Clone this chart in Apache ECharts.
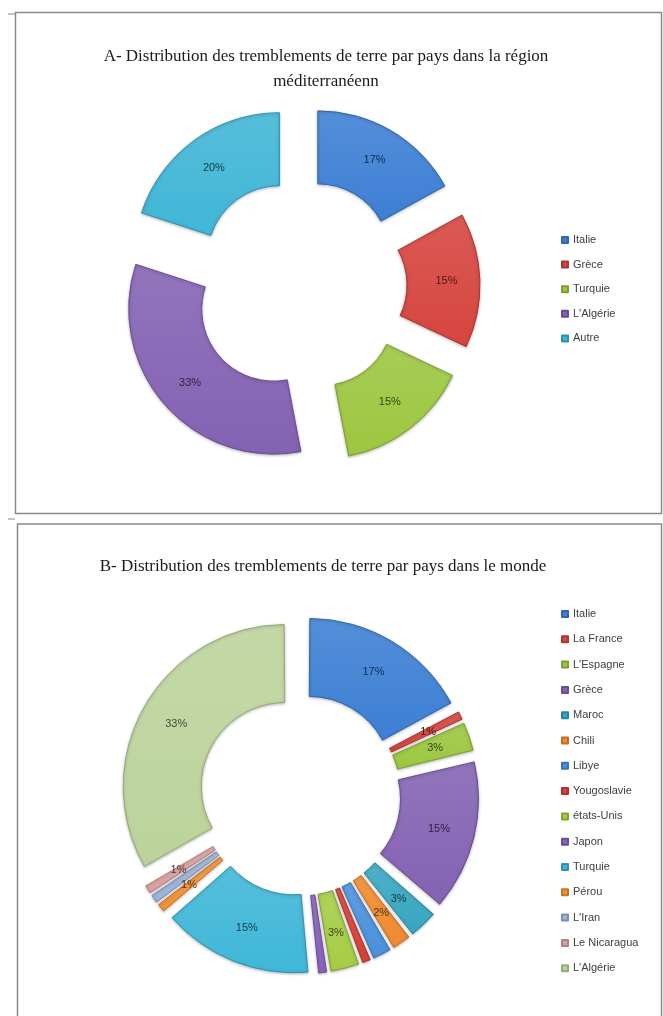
<!DOCTYPE html>
<html>
<head>
<meta charset="utf-8">
<title>Distribution des tremblements de terre</title>
<script src="https://cdn.jsdelivr.net/npm/echarts@6/dist/echarts.min.js"></script>
<style>
  html, body { margin: 0; padding: 0; background: #fff; }
  #chart { width: 663px; height: 1016px; }
</style>
</head>
<body>
<div id="chart"></div>
<script>
// A - région méditerranéenne
var paysA = ['Italie', 'Grèce', 'Turquie', "L'Algérie", 'Autre'];
var valeursA = [17, 15, 15, 33, 20];

// B - monde
var paysB = ['Italie', 'La France', "L'Espagne", 'Grèce', 'Maroc', 'Chili', 'Libye', 'Yougoslavie',
  'états-Unis', 'Japon', 'Turquie', 'Pérou', "L'Iran", 'Le Nicaragua', "L'Algérie"];
var valeursB = [17, 1, 3, 15, 3, 2, 2, 1, 3, 1, 15, 1, 1, 1, 33];

// couleurs (style excel)
var couleursA = ['#3d7fd4', '#d7443e', '#9cc73f', '#8462b3', '#40b6d6'];
var couleursB = ['#3d7fd4', '#d7443e', '#9cc73f', '#8462b3', '#36a6c0', '#f08a2e', '#4a90dc', '#d9403a',
  '#a5cc44', '#8a62bc', '#3fb7d8', '#f39235', '#9db3d9', '#dba1a0', '#bcd39b'];

function darker(hex, k) {
  var c = echarts.color.parse(hex);
  return 'rgb(' + Math.round(c[0] * k) + ',' + Math.round(c[1] * k) + ',' + Math.round(c[2] * k) + ')';
}

// les noms de B ont un espace en plus pour ne pas se mélanger avec la légende de A
function nomB(n) { return n + ' '; }

function buildData(noms, valeurs, couleurs) {
  var list = [];
  for (var i = 0; i < noms.length; i++) {
    list.push({
      name: noms[i],
      value: valeurs[i],
      selected: true,
      itemStyle: {
        color: new echarts.graphic.LinearGradient(0, 0, 0, 1, [
          { offset: 0, color: echarts.color.lift(couleurs[i], 0.12) },
          { offset: 1, color: couleurs[i] }
        ]),
        borderColor: darker(couleurs[i], 0.8),
        borderWidth: 1,
        shadowColor: 'rgba(0,0,0,0.25)',
        shadowBlur: 3,
        shadowOffsetY: 1
      },
      label: { color: darker(couleurs[i], 0.35) }
    });
  }
  return list;
}

var myChart = echarts.init(document.getElementById('chart'));

var legendText = { fontFamily: 'Liberation Sans', fontSize: 11, color: '#404040', lineHeight: 14 };
var titleText = { fontFamily: 'Liberation Serif', fontSize: 17, fontWeight: 'normal', color: '#1a1a1a', lineHeight: 25 };

var option = {
  backgroundColor: '#fff',
  animation: false,
  title: [
    {
      text: 'A- Distribution des tremblements de terre par pays dans la région\nméditerranéenn',
      left: 321, top: 39, textAlign: 'center',
      textStyle: titleText
    },
    {
      text: 'B- Distribution des tremblements de terre par pays dans le monde',
      left: 318, top: 549, textAlign: 'center',
      textStyle: titleText
    }
  ],
  legend: [
    {
      data: paysA.map(function (n, i) { return { name: n, itemStyle: { color: couleursA[i] } }; }),
      orient: 'vertical', left: 556, top: 228,
      icon: 'rect', itemWidth: 6, itemHeight: 6, itemGap: 10.6,
      textStyle: legendText
    },
    {
      data: paysB.map(function (n, i) { return { name: nomB(n), itemStyle: { color: couleursB[i] } }; }),
      orient: 'vertical', left: 556, top: 602,
      icon: 'rect', itemWidth: 6, itemHeight: 6, itemGap: 11.3,
      textStyle: legendText
    }
  ],
  graphic: [
    // cadres
    { type: 'rect', shape: { x: 15.5, y: 12.5, width: 646, height: 501 }, style: { fill: null, stroke: '#8a8a8a', lineWidth: 1.5 } },
    { type: 'line', shape: { x1: 8, y1: 14, x2: 15, y2: 14 }, style: { stroke: '#8a8a8a', lineWidth: 1 } },
    { type: 'line', shape: { x1: 8, y1: 519, x2: 15, y2: 519 }, style: { stroke: '#8a8a8a', lineWidth: 1 } },
    { type: 'rect', shape: { x: 17.5, y: 524, width: 644, height: 500 }, style: { fill: null, stroke: '#8a8a8a', lineWidth: 1.5 } }
  ],
  series: [
    {
      name: 'A',
      type: 'pie',
      center: [300, 286],
      radius: [72, 145],
      startAngle: 90,
      selectedMode: 'multiple',
      selectedOffset: 35,
      emphasis: { disabled: true },
      label: { show: true, position: 'inside', formatter: '{c}%', fontFamily: 'Liberation Sans', fontSize: 11 },
      labelLine: { show: false },
      data: buildData(paysA, valeursA, couleursA)
    },
    {
      name: 'B',
      type: 'pie',
      center: [300, 795],
      radius: [84, 162],
      startAngle: 90,
      padAngle: 0.8,
      selectedMode: 'multiple',
      selectedOffset: 17,
      emphasis: { disabled: true },
      label: { show: true, position: 'inside', formatter: '{c}%', fontFamily: 'Liberation Sans', fontSize: 11 },
      labelLine: { show: false },
      data: buildData(paysB.map(nomB), valeursB, couleursB)
    }
  ]
};

myChart.setOption(option);
</script>
</body>
</html>
